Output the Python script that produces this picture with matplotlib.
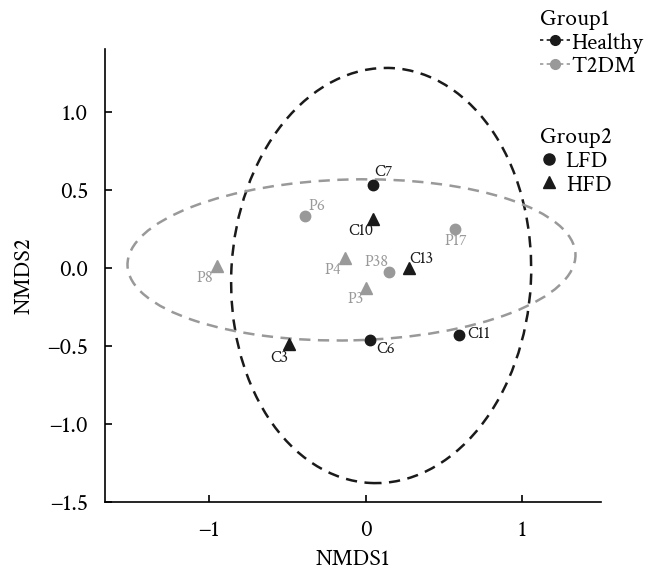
import matplotlib
matplotlib.use('Agg')
import matplotlib.pyplot as plt
from matplotlib.lines import Line2D
from matplotlib.patches import Ellipse

plt.rcParams['font.family'] = ['Crimson Text', 'Liberation Serif', 'DejaVu Serif']

BLACK = '#1a1a1a'
GREY = '#999999'

# sample scores (NMDS1, NMDS2)
names = ['C7', 'C10', 'C13', 'C6', 'C11', 'C3',
         'P6', 'P17', 'P38', 'P4', 'P3', 'P8']
nmds1 = [0.05, 0.05, 0.28, 0.03, 0.60, -0.49,
         -0.39, 0.57, 0.15, -0.13, 0.0, -0.95]
nmds2 = [0.53, 0.31, 0.00, -0.46, -0.43, -0.49,
         0.33, 0.25, -0.03, 0.06, -0.13, 0.01]
group1 = ['Healthy'] * 6 + ['T2DM'] * 6
group2 = ['LFD', 'HFD', 'HFD', 'LFD', 'LFD', 'HFD',
          'LFD', 'LFD', 'LFD', 'HFD', 'HFD', 'HFD']

# confidence ellipses: centre x, centre y, width, height, angle
ell_healthy = (0.10, -0.05, 1.92, 2.66, -3)
ell_t2dm = (-0.09, 0.05, 2.87, 1.03, 1.4)

# label offsets in points (dx, dy)
label_off = {
    'C7': (7, 9), 'C10': (-9, -9), 'C13': (9, 6), 'C6': (11, -7),
    'C11': (14, 0), 'C3': (-7, -10), 'P6': (9, 7), 'P17': (1, -9),
    'P38': (-9, 7), 'P4': (-9, -9), 'P3': (-7, -8), 'P8': (-9, -9),
}

colors = {'Healthy': BLACK, 'T2DM': GREY}
markers = {'LFD': 'o', 'HFD': '^'}

fig = plt.figure(figsize=(6.55, 5.77), dpi=100)
ax = fig.add_axes([0.160, 0.130, 0.758, 0.785])

for (cx, cy, w, h, a), col in [(ell_healthy, BLACK), (ell_t2dm, GREY)]:
    ax.add_patch(Ellipse((cx, cy), w, h, angle=a, fill=False, edgecolor=col,
                         lw=1.8, linestyle=(0, (4.5, 3))))

for n, x, y, g1, g2 in zip(names, nmds1, nmds2, group1, group2):
    ms = 7.5 if g2 == 'LFD' else 8
    ax.plot(x, y, marker=markers[g2], color=colors[g1], ms=ms, ls='none')
    ax.annotate(n, (x, y), xytext=label_off[n], textcoords='offset points',
                ha='center', va='center', fontsize=12, color=colors[g1])

ax.set_xlim(-1.67, 1.51)
ax.set_ylim(-1.5, 1.40)
ax.set_xticks([-1, 0, 1])
ax.set_yticks([-1.5, -1.0, -0.5, 0.0, 0.5, 1.0])
ax.set_yticklabels(['\u22121.5', '\u22121.0', '\u22120.5', '0.0', '0.5', '1.0'])
ax.set_xticklabels(['\u22121', '0', '1'])
ax.tick_params(direction='in', length=5, width=1.2, labelsize=17)
ax.tick_params(axis='x', pad=13)
ax.tick_params(axis='y', pad=12)
for s in ['top', 'right']:
    ax.spines[s].set_visible(False)
for s in ['left', 'bottom']:
    ax.spines[s].set_linewidth(1.2)
ax.set_xlabel('NMDS1', fontsize=17, labelpad=6)
ax.set_ylabel('NMDS2', fontsize=17, labelpad=9)

h1 = [Line2D([], [], color=colors[g], marker='o', ms=7, ls=(0, (2, 2)), lw=1.2)
      for g in ['Healthy', 'T2DM']]
leg1 = fig.legend(h1, ['Healthy', 'T2DM'], title='Group1', loc='upper left',
                  bbox_to_anchor=(0.824, 0.985), frameon=False, fontsize=17,
                  title_fontsize=17, handlelength=1.3, handletextpad=0.05,
                  labelspacing=0.1, borderpad=0, borderaxespad=0)
leg1._legend_box.align = 'left'

h2 = [Line2D([], [], color=BLACK, marker=markers[g], ms=8, ls='none')
      for g in ['LFD', 'HFD']]
leg2 = fig.legend(h2, ['LFD', 'HFD'], title='Group2', loc='upper left',
                  bbox_to_anchor=(0.824, 0.78), frameon=False, fontsize=17,
                  title_fontsize=17, handlelength=0.8, handletextpad=0.3,
                  labelspacing=0.1, borderpad=0, borderaxespad=0)
leg2._legend_box.align = 'left'

fig.savefig('out.png', dpi=100)
